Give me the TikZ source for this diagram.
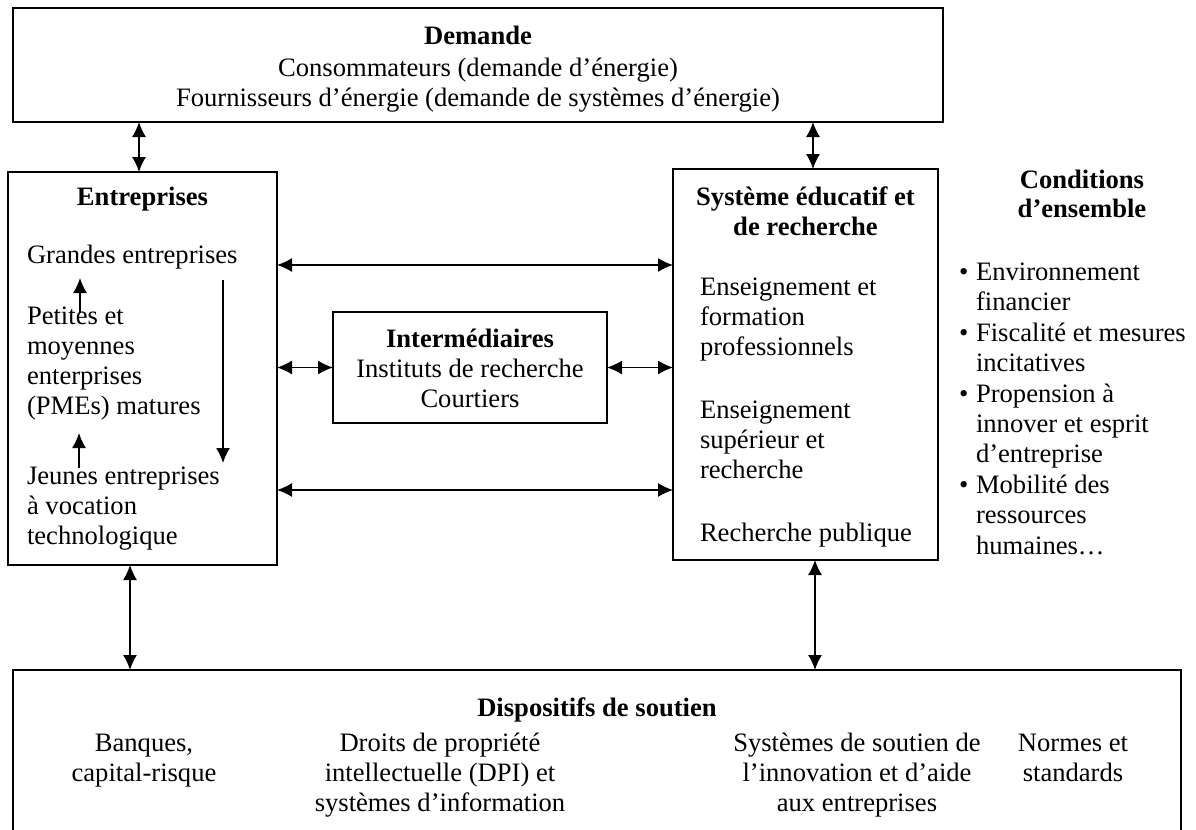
\documentclass[tikz,border=0pt]{standalone}
\usepackage{fontspec}
\setmainfont{Liberation Serif}
\usetikzlibrary{arrows.meta}
\begin{document}
\begin{tikzpicture}[x=0.5pt,y=-0.5pt,
  every node/.style={font=\fontsize{13.3}{15}\selectfont, inner sep=0pt, outer sep=0pt},
  box/.style={draw, line width=1pt},
  arr/.style={line width=0.7pt, -{Latex[length=7.5pt,width=7pt]}},
  darr/.style={line width=0.7pt, {Latex[length=7.5pt,width=7pt]}-{Latex[length=7.5pt,width=7pt]}},
  ltxt/.style={anchor=base west, align=left},
  ctxt/.style={anchor=base, align=center},
  bold/.style={font=\fontsize{13.3}{15}\selectfont\bfseries}]
\path[use as bounding box, clip] (0,0) rectangle (1196,830);
\fill[white] (0,0) rectangle (1196,830);

% boxes
\node[box, minimum width=465pt, minimum height=57pt] (dem) at (478,65) {};
\node[box, minimum width=134.5pt, minimum height=196.5pt] (ent) at (142.5,368.5) {};
\node[box, minimum width=132.5pt, minimum height=195.5pt] (sys) at (805.5,364.5) {};
\node[box, minimum width=137pt, minimum height=55.5pt] (int) at (470,367.5) {};
\node[box, minimum width=584pt, minimum height=90pt] (dis) at (597,760) {};

% (multi-line nodes: the base anchor is the baseline of the last line)
% Demande texts
\node[ctxt, bold] (demT) at (478,45) {Demande};
\node[ctxt] (demL) at (478,106) {Consommateurs (demande d’énergie)\\Fournisseurs d’énergie (demande de systèmes d’énergie)};

% Entreprises texts
\node[ctxt, bold] (entT) at (142.5,205) {Entreprises};
\node[ltxt] (ge) at (27,263) {Grandes entreprises};
\node[ltxt] (pme) at (27,414) {Petites et\\moyennes\\enterprises\\(PMEs) matures};
\node[ltxt] (je) at (27,544) {Jeunes entreprises\\à vocation\\technologique};

% Intermediaires
\node[ctxt, bold] (intT) at (470,347) {Intermédiaires};
\node[ctxt] (intL) at (470,407) {Instituts de recherche\\Courtiers};

% Systeme
\node[ctxt, bold] (sysT) at (805.5,235) {Système éducatif et\\de recherche};
\node[ltxt] (ens1) at (700,355) {Enseignement et\\formation\\professionnels};
\node[ltxt] (ens2) at (700,478) {Enseignement\\supérieur et\\recherche};
\node[ltxt] (rp) at (700,541) {Recherche publique};

% Conditions
\node[ctxt, bold, font=\fontsize{13.3}{14.5}\selectfont\bfseries] (condT) at (1082,217) {Conditions\\d’ensemble};
\node[ltxt, font=\fontsize{13.3}{15.2}\selectfont] (condL) at (976,554) {Environnement\\financier\\Fiscalité et mesures\\incitatives\\Propension à\\innover et esprit\\d’entreprise\\Mobilité des\\ressources\\humaines…};
\foreach \yy [count=\i] in {280,341,402,493}
  \node[anchor=base west] (b\i) at (959,\yy) {•};

% Dispositifs
\node[ctxt, bold] (disT) at (597,716) {Dispositifs de soutien};
\node[ctxt] (d1) at (144,781) {Banques,\\capital-risque};
\node[ctxt] (d2) at (440,811) {Droits de propriété\\intellectuelle (DPI) et\\systèmes d’information};
\node[ctxt] (d3) at (857,811) {Systèmes de soutien de\\l’innovation et d’aide\\aux entreprises};
\node[ctxt] (d4) at (1073,781) {Normes et\\standards};

% connector coordinates
\coordinate (xa) at (139,0);
\coordinate (xb) at (813,0);
\coordinate (xc) at (130,0);
\coordinate (xd) at (815,0);
\coordinate (yu) at (0,265);
\coordinate (yl) at (0,490);

\draw[darr] (xa |- dem.south) -- (xa |- ent.north);
\draw[darr] (xb |- dem.south) -- (xb |- sys.north);
\draw[darr] (ent.east |- yu) -- (sys.west |- yu);
\draw[darr] (ent.east |- yl) -- (sys.west |- yl);
\draw[darr] (ent.east |- int.west) -- (int.west);
\draw[darr] (int.east) -- (sys.west |- int.east);
\draw[darr] (xc |- ent.south) -- (xc |- dis.north);
\draw[darr] (xd |- sys.south) -- (xd |- dis.north);

% arrows inside Entreprises
\coordinate (u1s) at (80,313);
\coordinate (u1e) at (80,278);
\coordinate (u2s) at (79,468);
\coordinate (u2e) at (79,433);
\coordinate (dns) at (223,280);
\coordinate (dne) at (223,463);
\draw[arr] (u1s) -- (u1e);
\draw[arr] (u2s) -- (u2e);
\draw[arr] (dns) -- (dne);
\end{tikzpicture}
\end{document}
